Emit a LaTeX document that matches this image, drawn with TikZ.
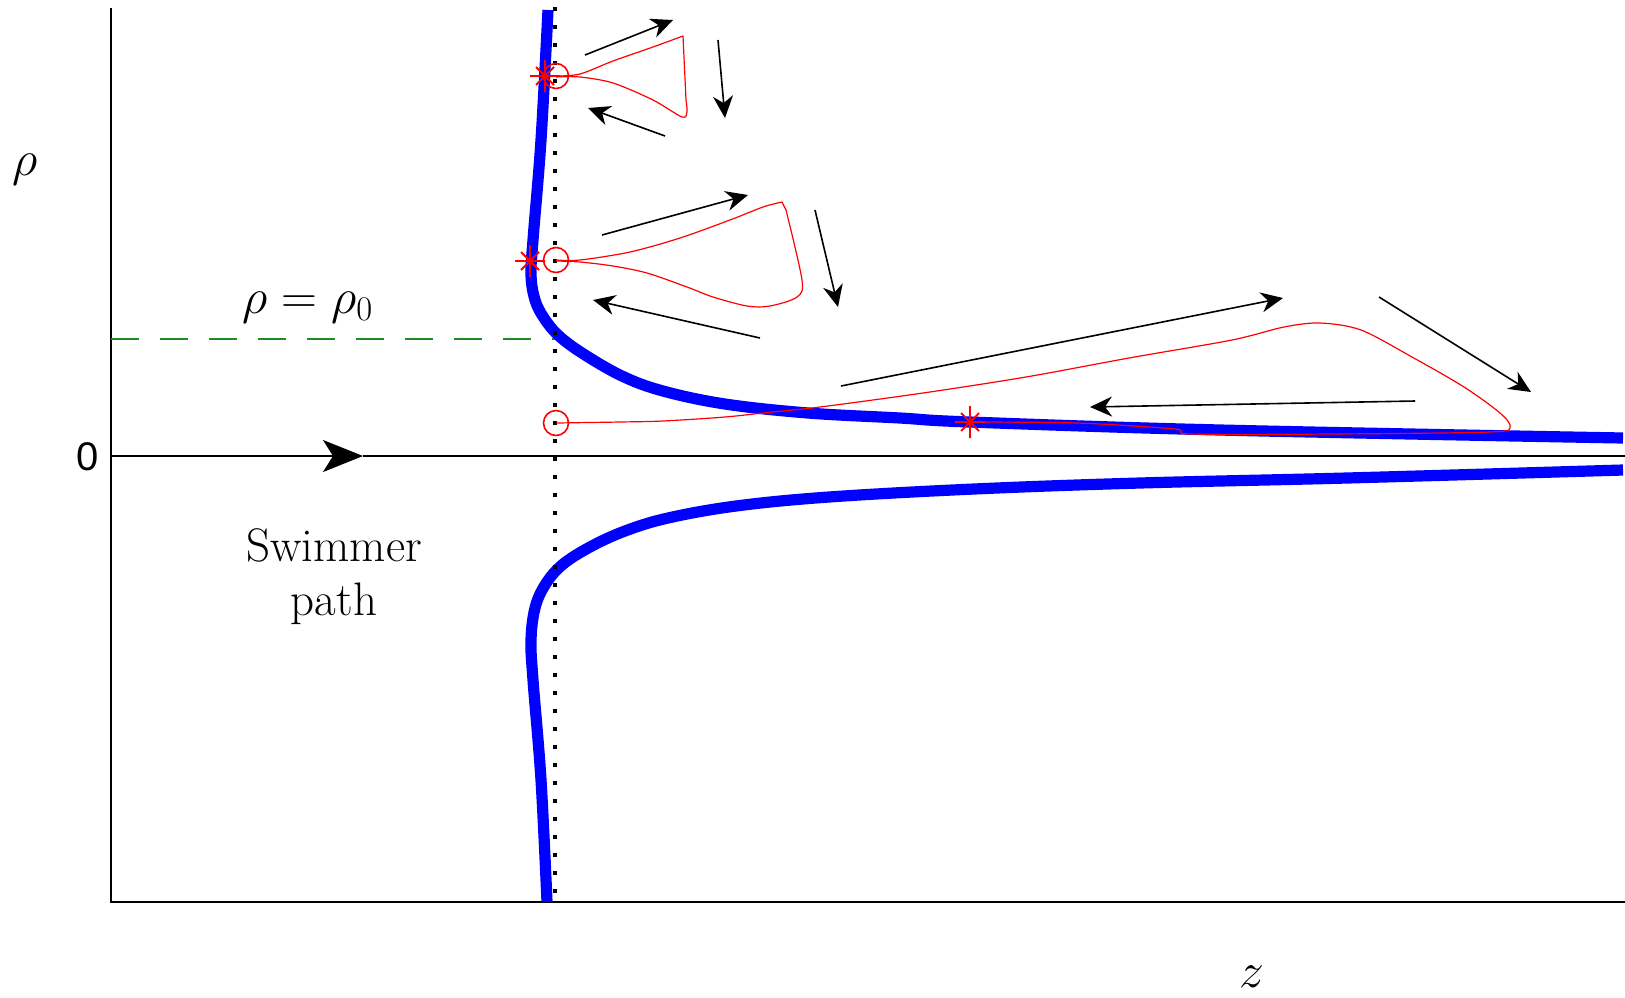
\documentclass[tikz,border=0pt]{standalone}
\usepackage{fontspec}
\newfontfamily\zerofont{Liberation Sans}
\usetikzlibrary{arrows.meta}
\definecolor{mblue}{rgb}{0,0,1}
\definecolor{mred}{rgb}{1,0,0}
\definecolor{mgreen}{rgb}{0.12,0.55,0.12}
\begin{document}
\begin{tikzpicture}[x=0.5pt,y=-0.5pt,
  axis/.style={line width=1.1pt,black},
  swim/.style={line width=5.6pt,mblue,line join=round},
  orbit/.style={line width=0.6pt,mred,line join=round},
  flow/.style={line width=0.8pt,black,-{Stealth[length=11pt,width=10pt,inset=3.5pt]}},
  lbl/.style={font=\fontsize{23.5}{27}\selectfont,inner sep=0pt},
  circmark/.pic={\draw[mred,line width=0.8pt] (0,0) circle[radius=6.25pt];},
  astmark/.pic={\draw[mred,line width=0.9pt] (-7.5pt,0)--(7.5pt,0) (0,-8pt)--(0,8pt) (-4.5pt,-4.5pt)--(4.5pt,4.5pt) (-4.5pt,4.5pt)--(4.5pt,-4.5pt);}
]
\useasboundingbox (0,0) rectangle (1625,997);

% axes
\coordinate (tl) at (111,8);
\coordinate (bl) at (111,902);
\coordinate (br) at (1625,902);
\draw[axis] (tl) -- (bl) -- (br);
\coordinate (o) at (111,456);
\coordinate (mid) at (363,456);
\coordinate (r) at (1625,456);
\draw[line width=1pt,-{Stealth[length=20pt,width=16pt,inset=5pt]}] (o) -- (mid);
\draw[line width=1pt] (mid) -- (r);

% green dashed
\coordinate (g1) at (111,339);
\coordinate (g2) at (555,339);
\draw[mgreen,line width=0.8pt,dash pattern=on 14pt off 10.5pt] (g1) -- (g2);

% blue swimmer curves
\draw[swim] plot[smooth,tension=0.6] coordinates {(548,10) (541,140) (533,240) (531,275) (535,300) (544,318) (558,335) (582,353) (622,376) (663,391) (725,404) (808,413) (900,418) (970,422) (1220,430) (1623,438)};
\draw[swim] plot[smooth,tension=0.6] coordinates {(547,902) (541,780) (533,680) (531,640) (535,608) (545,585) (562,565) (590,547) (625,531) (668,518) (736,506) (829,497) (974,489) (1140,483) (1347,478) (1623,470)};

% dotted vertical
\coordinate (d1) at (555,7);
\coordinate (d2) at (555,903);
\draw[line width=2pt,dash pattern=on 2pt off 7pt] (d1) -- (d2);

% red orbits
\draw[orbit] plot[smooth,tension=0.5] coordinates {(556,76) (580,74) (613,61) (653,47) (683,36)} -- plot[smooth,tension=0.5] coordinates {(686,100) (687,112) (682,117) (653,100) (613,83) (580,77) (556,77)};
\draw[orbit] plot[smooth,tension=0.5] coordinates {(556,260) (580,260) (630,252) (680,238) (730,220) (763,207) (782,202)} -- plot[smooth,tension=0.5] coordinates {(786,210) (802,280) (797,297) (770,306) (747,306) (713,297) (687,287) (647,273) (613,266) (580,262) (556,261)};
\draw[orbit] plot[smooth,tension=0.5] coordinates {(556,423) (620,422) (663,421) (725,417) (772,412) (820,407) (923,393) (1026,377) (1129,358) (1232,340) (1284,327) (1320,323) (1361,330) (1412,357) (1464,387) (1500,413) (1510,427) (1490,432) (1335,434) (1191,434) (1175,429) (1077,423) (969,422)};

% markers
\pic at (556,76) {circmark};
\pic at (556,260) {circmark};
\pic at (556,423) {circmark};
\pic at (545,76) {astmark};
\pic at (530,261) {astmark};
\pic at (970,422) {astmark};

% flow arrows
\coordinate (a1s) at (585,55);  \coordinate (a1e) at (673,20);
\coordinate (b1s) at (718,40);  \coordinate (b1e) at (725,118);
\coordinate (c1s) at (665,136); \coordinate (c1e) at (588,108);
\coordinate (a2s) at (602,235); \coordinate (a2e) at (748,195);
\coordinate (b2s) at (815,210); \coordinate (b2e) at (838,307);
\coordinate (c2s) at (760,338); \coordinate (c2e) at (593,300);
\coordinate (a3s) at (841,386); \coordinate (a3e) at (1283,298);
\coordinate (b3s) at (1379,297); \coordinate (b3e) at (1531,392);
\coordinate (c3s) at (1415,401); \coordinate (c3e) at (1090,407);
\draw[flow] (a1s) -- (a1e);
\draw[flow] (b1s) -- (b1e);
\draw[flow] (c1s) -- (c1e);
\draw[flow] (a2s) -- (a2e);
\draw[flow] (b2s) -- (b2e);
\draw[flow] (c2s) -- (c2e);
\draw[flow] (a3s) -- (a3e);
\draw[flow] (b3s) -- (b3e);
\draw[flow] (c3s) -- (c3e);

% labels
\node[lbl,anchor=base] (rho) at (25,175) {$\rho$};
\node[lbl,anchor=base] (rho0) at (308,313) {$\rho=\rho_0$};
\node[inner sep=0pt,anchor=base,font=\zerofont\fontsize{20}{24}\selectfont] (zero) at (88,470) {0};
\node[lbl,align=center] (swimmer) at (334,577) {Swimmer\\path};
\node[lbl,anchor=base] (zlab) at (1252,987) {$z$};
\end{tikzpicture}
\end{document}
